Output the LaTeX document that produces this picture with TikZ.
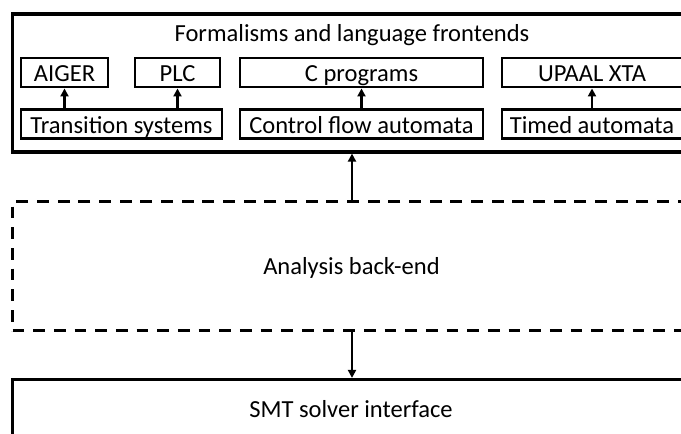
\documentclass[tikz,border=0pt]{standalone}
\usepackage{fontspec}
\setmainfont{Carlito}
\usetikzlibrary{arrows.meta}
\begin{document}
\begin{tikzpicture}[x=0.75pt,y=-0.75pt,
  txt/.style={font=\fontsize{18.4pt}{21pt}\selectfont,text height=13.5pt,text depth=0pt},
  box/.style={txt,draw=black,line width=2.2pt,rectangle,inner sep=0pt},
  outerbox/.style={box,line width=2.4pt},
  dashbox/.style={box,line width=2.2pt,dash pattern=on 8.8pt off 6.7pt},
  conn/.style={line width=1.6pt,-{Triangle[length=6pt,width=6pt]}},
  lbl/.style={txt,inner sep=0pt}]
\useasboundingbox (0,0) rectangle (681,433);
\clip (0,0) rectangle (681,433);
% outer containers (extend past right/bottom edge)
\node[outerbox,minimum width=531pt,minimum height=103.5pt] (front) at (366.5,83) {};
\node[lbl] (fronttitle) at (352,32.8) {Formalisms and language frontends};
\node[dashbox,minimum width=531pt,minimum height=96.75pt] (back) at (366.5,266.2) {};
\node[lbl] (backtitle) at (351.5,265.4) {Analysis back-end};
\node[outerbox,minimum width=531pt,minimum height=90pt] (smt) at (366.5,439.5) {};
\node[lbl] (smttitle) at (351,408.9) {SMT solver interface};
% inner boxes
\node[box,minimum width=65.25pt,minimum height=21.75pt] (aiger) at (64.5,72.5) {AIGER};
\node[box,minimum width=63.75pt,minimum height=21.75pt] (plc) at (177.5,72.5) {PLC};
\node[box,minimum width=182.25pt,minimum height=21.75pt] (cprog) at (361.5,72.5) {C programs};
\node[box,minimum width=135pt,minimum height=21.75pt] (xta) at (592,72.5) {UPAAL XTA};
\node[box,minimum width=150.75pt,minimum height=21.4pt] (ts) at (121.5,124.2) {Transition systems};
\node[box,minimum width=182.25pt,minimum height=21.4pt] (cfa) at (361.5,124.2) {Control flow automata};
\node[box,minimum width=135pt,minimum height=21.4pt] (ta) at (592,124.2) {Timed automata};
% connectors
\draw[conn] (ts.north -| aiger.south) -- (aiger.south);
\draw[conn] (ts.north -| plc.south) -- (plc.south);
\draw[conn] (cfa.north) -- (cprog.south);
\draw[conn] (ta.north) -- (xta.south);
\coordinate (mid) at (352,0);
\draw[conn] (back.north -| mid) -- (front.south -| mid);
\draw[conn] (back.south -| mid) -- (smt.north -| mid);
\end{tikzpicture}
\end{document}
